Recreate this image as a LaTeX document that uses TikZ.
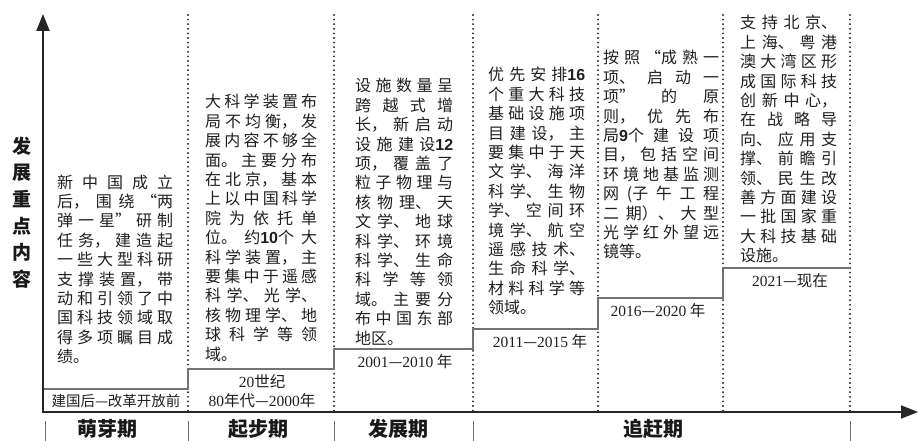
\documentclass[tikz,border=0pt]{standalone}
\usepackage{fontspec}
\setmainfont{Noto Sans CJK SC}
\newfontfamily\lat{Liberation Serif}
\newfontfamily\digb{Liberation Sans}
\usetikzlibrary{arrows.meta}
\XeTeXlinebreaklocale "zh"
\XeTeXlinebreakskip=0pt plus 6pt
\newcommand\bd[1]{{\digb\bfseries #1}}
\newcommand\lt[1]{{\lat #1}}
\newcommand\oq{\hskip 0pt plus 6pt\makebox[1em][r]{“}}
\newcommand\cq{\makebox[1em][l]{”}\hskip 0pt plus 6pt}
\tolerance=9999
\begin{document}
\begin{tikzpicture}[x=1pt,y=-1pt,
  coltext/.style={anchor=base west,inner sep=0pt,align=justify,text=black!88,
    font=\fontsize{16pt}{19.4pt}\selectfont},
  datelbl/.style={anchor=center,inner sep=0pt,align=center,text=black!88,
    font=\fontsize{15.5pt}{19pt}\selectfont},
  phase/.style={anchor=center,inner sep=0pt,text=black!90,
    font=\fontsize{20pt}{24pt}\selectfont\bfseries},
  axisline/.style={line width=2pt,draw=black!85,{Triangle[length=17pt,width=13pt]}-{Triangle[length=17pt,width=13pt]}},
  dotline/.style={line width=2.1pt,draw=black!85,dash pattern=on 0pt off 4.6pt,line cap=round},
  stairline/.style={line width=1.3pt,draw=black!55},
  tickline/.style={line width=0.9pt,draw=black!55}]
\useasboundingbox (0,0) rectangle (918,441);
% coordinates
\coordinate (ytip) at (43,14);
\coordinate (orig) at (43,412);
\coordinate (xtip) at (918,412);
% dotted separators
\foreach \xx/\nm in {188/d1,334/d2,473/d3,598/d4,723/d5,850/d6}{
  \coordinate (\nm t) at (\xx,15);
  \coordinate (\nm b) at (\xx,412);
  \draw[dotline] (\nm t) -- (\nm b);
}
% staircase
\coordinate (s0) at (43,389);
\coordinate (s1) at (188,389);
\coordinate (s2) at (188,369);
\coordinate (s3) at (334,369);
\coordinate (s4) at (334,349);
\coordinate (s5) at (473,349);
\coordinate (s6) at (473,329);
\coordinate (s7) at (598,329);
\coordinate (s8) at (598,298);
\coordinate (s9) at (723,298);
\coordinate (s10) at (723,268);
\coordinate (s11) at (850,268);
\draw[stairline] (s0) -- (s1) -- (s2) -- (s3) -- (s4) -- (s5) -- (s6) -- (s7) -- (s8) -- (s9) -- (s10) -- (s11);
% axes
\draw[axisline] (ytip) -- (orig) -- (xtip);
% bottom ticks
\foreach \xx/\nm in {45/b0,188/b1,334/b2,473/b3,850/b4}{
  \coordinate (\nm t) at (\xx,421);
  \coordinate (\nm b) at (\xx,441);
  \draw[tickline] (\nm t) -- (\nm b);
}
% y label
\node[anchor=center,inner sep=0pt,align=center,text=black!90,
  font=\fontsize{19pt}{26.6pt}\selectfont\bfseries] (ylab) at (22,212.5)
  {发\\展\\重\\点\\内\\容};
% column texts
\node[coltext,text width=116pt] (c1) at (57,188) {新中国成立\linebreak
后，围绕\oq 两\linebreak
弹一星\cq 研制\linebreak
任务，建造起\linebreak
一些大型科研\linebreak
支撑装置，带\linebreak
动和引领了中\linebreak
国科技领域取\linebreak
得多项瞩目成\linebreak
绩。};
\node[coltext,text width=112pt] (c2) at (205,108) {大科学装置布\linebreak
局不均衡，发\linebreak
展内容不够全\linebreak
面。主要分布\linebreak
在北京，基本\linebreak
上以中国科学\linebreak
院为依托单\linebreak
位。约\bd{10}个大\linebreak
科学装置，主\linebreak
要集中于遥感\linebreak
科学、光学、\linebreak
核物理学、地\linebreak
球科学等领\linebreak
域。};
\node[coltext,text width=98pt] (c3) at (355,92) {设施数量呈\linebreak
跨越式增\linebreak
长，新启动\linebreak
设施建设\bd{12}\linebreak
项，覆盖了\linebreak
粒子物理与\linebreak
核物理、天\linebreak
文学、地球\linebreak
科学、环境\linebreak
科学、生命\linebreak
科学等领\linebreak
域。主要分\linebreak
布中国东部\linebreak
地区。};
\node[coltext,text width=97pt] (c4) at (488,81) {优先安排\bd{16}\linebreak
个重大科技\linebreak
基础设施项\linebreak
目建设，主\linebreak
要集中于天\linebreak
文学、海洋\linebreak
科学、生物\linebreak
学、空间环\linebreak
境学、航空\linebreak
遥感技术、\linebreak
生命科学、\linebreak
材料科学等\linebreak
领域。};
\node[coltext,text width=116pt] (c5) at (603,64) {按照\oq 成熟一\linebreak
项、启动一\linebreak
项\cq 的原\linebreak
则，优先布\linebreak
局\bd{9}个建设项\linebreak
目，包括空间\linebreak
环境地基监测\linebreak
网(子午工程\linebreak
二期）、大型\linebreak
光学红外望远\linebreak
镜等。};
\node[coltext,text width=97pt] (c6) at (740,29) {支持北京、\linebreak
上海、粤港\linebreak
澳大湾区形\linebreak
成国际科技\linebreak
创新中心，\linebreak
在战略导\linebreak
向、应用支\linebreak
撑、前瞻引\linebreak
领、民生改\linebreak
善方面建设\linebreak
一批国家重\linebreak
大科技基础\linebreak
设施。};
% date labels
\node[datelbl,font=\fontsize{14.5pt}{18pt}\selectfont] (t1) at (116,401) {建国后—改革开放前};
\node[datelbl] (t2a) at (262,381) {\lt{20}世纪};
\node[datelbl] (t2b) at (262,401) {\lt{80}年代—\lt{2000}年};
\node[datelbl] (t3) at (405,362) {\lt{2001}—\lt{2010} 年};
\node[datelbl] (t4) at (540,342) {\lt{2011}—\lt{2015} 年};
\node[datelbl] (t5) at (658,311) {\lt{2016}—\lt{2020} 年};
\node[datelbl] (t6) at (790,281) {\lt{2021}—现在};
% phase labels
\node[phase] (p1) at (107,429) {萌芽期};
\node[phase] (p2) at (258,429) {起步期};
\node[phase] (p3) at (398,429) {发展期};
\node[phase] (p4) at (653,429) {追赶期};
\end{tikzpicture}
\end{document}
